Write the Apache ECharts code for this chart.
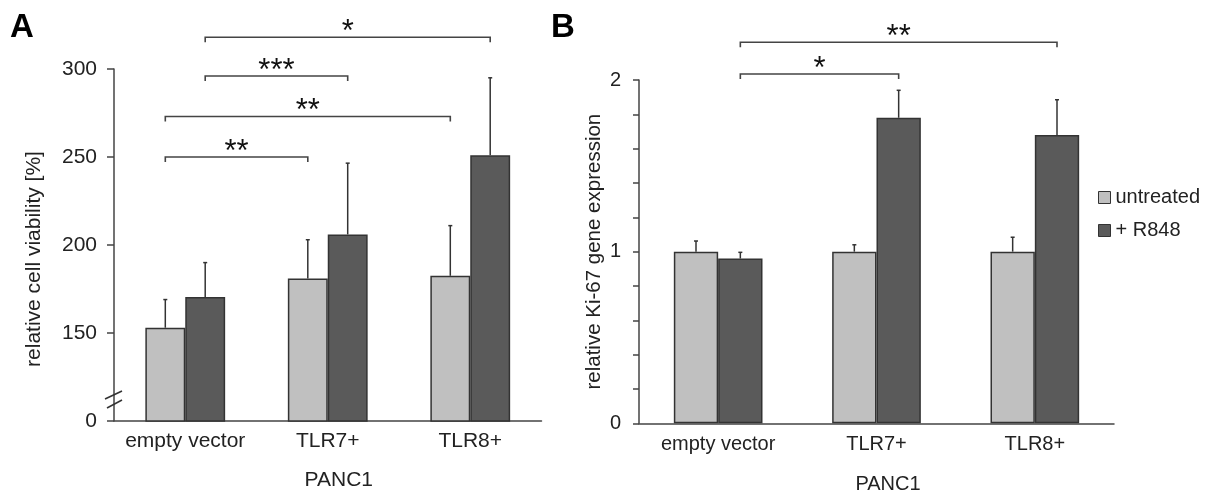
<html>
    <head>
        <meta charset="utf-8">
        <script src="https://cdn.jsdelivr.net/npm/echarts@6.0.0/dist/echarts.min.js"></script>
        <style>
            html, body { margin: 0; padding: 0; background: #fff; }
            #main { width: 1207px; height: 490px; }
        </style>
    </head>
    <body>
        <div id="main"></div>
        <script>
            var categories = ['empty vector', 'TLR7+', 'TLR8+'];
            var seriesNames = ['untreated', '+ R848'];

            // panel A: relative cell viability [%] (axis broken between 0 and 150)
            var viabUntreated = [153, 181, 182.5];
            var viabUntreatedSd = [16, 22, 28.5];
            var viabR848 = [170.5, 206, 251];
            var viabR848Sd = [19.5, 40.5, 44];
            var viabTicks = [0, 150, 200, 250, 300];

            // panel B: relative Ki-67 gene expression
            var ki67Untreated = [1.0, 1.0, 1.0];
            var ki67UntreatedSd = [0.062, 0.04, 0.084];
            var ki67R848 = [0.96, 1.78, 1.68];
            var ki67R848Sd = [0.036, 0.16, 0.205];
            var ki67Ticks = [0, 1, 2];

            // significance brackets: [fromCat, fromSeries, toCat, toSeries, height, label]
            var bracketsA = [
                [0, 1, 2, 1, 318, '*'],
                [0, 1, 1, 1, 296, '***'],
                [0, 0, 2, 0, 273, '**'],
                [0, 0, 1, 0, 250, '**']
            ];
            var bracketsB = [
                [0, 1, 2, 1, 2.22, '**'],
                [0, 1, 1, 1, 2.035, '*']
            ];

            var FONT = '"Liberation Sans", Arial, sans-serif';
            var AXIS = '#444';
            var TEXT = '#222';
            var LIGHT = '#c0c0c0';
            var DARK = '#5a5a5a';
            var HALF = 0.14; // half of bar width as fraction of band

            var chart = echarts.init(document.getElementById('main'));

            function errorData(vals, sds, side) {
                return vals.map(function (v, i) {
                    return [i, v, v + sds[i], side];
                });
            }

            function renderError(params, api) {
                var cat = api.value(0);
                var band = api.size([1, 0])[0];
                var p0 = api.coord([cat, api.value(1)]);
                var p1 = api.coord([cat, api.value(2)]);
                var x = p0[0] + (api.value(3) ? 1 : -1) * band * HALF;
                var st = {stroke: '#333', lineWidth: 1.5};
                return {
                    type: 'group',
                    children: [
                        {type: 'line', shape: {x1: x, y1: p0[1], x2: x, y2: p1[1]}, style: st},
                        {type: 'line', shape: {x1: x - 2, y1: p1[1], x2: x + 2, y2: p1[1]}, style: st}
                    ]
                };
            }

            function renderBracket(list) {
                return function (params, api) {
                    var b = list[params.dataIndex];
                    var band = api.size([1, 0])[0];
                    var x1 = api.coord([b[0], b[4]])[0] + (b[1] ? 1 : -1) * band * HALF;
                    var x2 = api.coord([b[2], b[4]])[0] + (b[3] ? 1 : -1) * band * HALF;
                    var y = api.coord([b[0], b[4]])[1];
                    return {
                        type: 'group',
                        children: [
                            {
                                type: 'polyline',
                                shape: {points: [[x1, y + 5], [x1, y], [x2, y], [x2, y + 5]]},
                                style: {stroke: AXIS, lineWidth: 1.6, fill: null}
                            },
                            {
                                type: 'text',
                                x: (x1 + x2) / 2,
                                y: y - 5,
                                style: {
                                    text: b[5], fontSize: 31, fontFamily: FONT,
                                    fill: '#111', textAlign: 'center', textVerticalAlign: 'middle'
                                }
                            }
                        ]
                    };
                };
            }

            // the "//" mark on the broken axis of panel A
            function renderBreak(params, api) {
                var band = api.size([1, 0])[0];
                var p = api.coord([0, api.value(1)]);
                var x = p[0] - band / 2;
                var y = p[1];
                var st = {stroke: '#333', lineWidth: 1.5};
                return {
                    type: 'group',
                    children: [
                        {type: 'line', shape: {x1: x - 9, y1: y - 22, x2: x + 8, y2: y - 30}, style: st},
                        {type: 'line', shape: {x1: x - 7, y1: y - 13, x2: x + 8, y2: y - 21}, style: st}
                    ]
                };
            }

            function xAxis(gridIndex, fontSize, margin, nameGap, padLeft, tickLen) {
                return {
                    type: 'category',
                    gridIndex: gridIndex,
                    data: categories,
                    name: 'PANC1',
                    nameLocation: 'middle',
                    nameGap: nameGap,
                    nameTextStyle: {fontSize: fontSize, fontFamily: FONT, color: TEXT, padding: [0, 0, 0, padLeft]},
                    axisLine: {onZero: false, lineStyle: {color: AXIS, width: 1.5}},
                    axisTick: {length: tickLen, lineStyle: {color: AXIS, width: 1.5}},
                    axisLabel: {interval: 0, fontSize: fontSize, fontFamily: FONT, color: TEXT, margin: margin}
                };
            }

            chart.setOption({
                animation: false,
                textStyle: {fontFamily: FONT},
                title: [
                    {text: 'A', left: 10, top: 11, padding: 0, textStyle: {fontSize: 33, fontWeight: 'bold', color: '#000', fontFamily: FONT}},
                    {text: 'B', left: 551, top: 11, padding: 0, textStyle: {fontSize: 33, fontWeight: 'bold', color: '#000', fontFamily: FONT}}
                ],
                legend: {
                    data: seriesNames,
                    orient: 'vertical',
                    left: 1093,
                    top: 182,
                    itemWidth: 12,
                    itemHeight: 12,
                    itemGap: 12,
                    itemTextGap: 5,
                    icon: 'rect',
                    itemStyle: {borderColor: '#333', borderWidth: 1},
                    textStyle: {fontSize: 20, fontFamily: FONT, color: TEXT, lineHeight: 21}
                },
                grid: [
                    {left: 114, top: 69, width: 427.5, height: 352, outerBoundsMode: 'none', containLabel: false},
                    {left: 639, top: 80, width: 475, height: 343.3, outerBoundsMode: 'none', containLabel: false}
                ],
                xAxis: [
                    xAxis(0, 21, 10, 49, 22, 6),
                    xAxis(1, 20, 11, 51, 23, 3)
                ],
                yAxis: [
                    {
                        type: 'value',
                        gridIndex: 0,
                        min: 100,
                        max: 300,
                        interval: 50,
                        name: 'relative cell viability [%]',
                        nameLocation: 'middle',
                        nameGap: 69,
                        nameTextStyle: {fontSize: 21, fontFamily: FONT, color: TEXT, padding: [0, 28, 0, 0]},
                        axisLine: {show: true, lineStyle: {color: AXIS, width: 1.5}},
                        axisTick: {show: true, length: 7, lineStyle: {color: AXIS, width: 1.5}},
                        splitLine: {show: false},
                        axisLabel: {
                            fontSize: 21, fontFamily: FONT, color: TEXT, margin: 17,
                            formatter: function (v) {
                                return v === 100 ? String(viabTicks[0]) : String(v);
                            }
                        }
                    },
                    {
                        type: 'value',
                        gridIndex: 1,
                        min: 0,
                        max: 2,
                        interval: 0.2,
                        name: 'relative Ki-67 gene expression',
                        nameLocation: 'middle',
                        nameGap: 34,
                        nameTextStyle: {fontSize: 20.5, fontFamily: FONT, color: TEXT},
                        axisLine: {show: true, lineStyle: {color: AXIS, width: 1.5}},
                        axisTick: {show: true, length: 6, lineStyle: {color: AXIS, width: 1.5}},
                        splitLine: {show: false},
                        axisLabel: {
                            fontSize: 20, fontFamily: FONT, color: TEXT, margin: 18,
                            formatter: function (v) {
                                var r = Math.round(v);
                                return (Math.abs(v - r) < 1e-6 && ki67Ticks.indexOf(r) >= 0) ? String(r) : '';
                            }
                        }
                    }
                ],
                series: [
                    {
                        name: seriesNames[0], type: 'bar', xAxisIndex: 0, yAxisIndex: 0,
                        data: viabUntreated, barWidth: '28%', barGap: '0%',
                        itemStyle: {color: LIGHT, borderColor: '#333', borderWidth: 1.5}
                    },
                    {
                        name: seriesNames[1], type: 'bar', xAxisIndex: 0, yAxisIndex: 0,
                        data: viabR848, barWidth: '28%', barGap: '0%',
                        itemStyle: {color: DARK, borderColor: '#333', borderWidth: 1.5}
                    },
                    {
                        type: 'custom', xAxisIndex: 0, yAxisIndex: 0, renderItem: renderError, clip: false,
                        data: errorData(viabUntreated, viabUntreatedSd, 0).concat(errorData(viabR848, viabR848Sd, 1))
                    },
                    {
                        type: 'custom', xAxisIndex: 0, yAxisIndex: 0, renderItem: renderBracket(bracketsA), clip: false,
                        data: bracketsA.map(function (b) { return b.slice(0, 5); })
                    },
                    {
                        type: 'custom', xAxisIndex: 0, yAxisIndex: 0, renderItem: renderBreak, clip: false, z: 5,
                        data: [[0, 100]]
                    },
                    {
                        name: seriesNames[0], type: 'bar', xAxisIndex: 1, yAxisIndex: 1,
                        data: ki67Untreated, barWidth: '28%', barGap: '0%',
                        itemStyle: {color: LIGHT, borderColor: '#333', borderWidth: 1.5}
                    },
                    {
                        name: seriesNames[1], type: 'bar', xAxisIndex: 1, yAxisIndex: 1,
                        data: ki67R848, barWidth: '28%', barGap: '0%',
                        itemStyle: {color: DARK, borderColor: '#333', borderWidth: 1.5}
                    },
                    {
                        type: 'custom', xAxisIndex: 1, yAxisIndex: 1, renderItem: renderError, clip: false,
                        data: errorData(ki67Untreated, ki67UntreatedSd, 0).concat(errorData(ki67R848, ki67R848Sd, 1))
                    },
                    {
                        type: 'custom', xAxisIndex: 1, yAxisIndex: 1, renderItem: renderBracket(bracketsB), clip: false,
                        data: bracketsB.map(function (b) { return b.slice(0, 5); })
                    }
                ]
            });
        </script>
    </body>
</html>
